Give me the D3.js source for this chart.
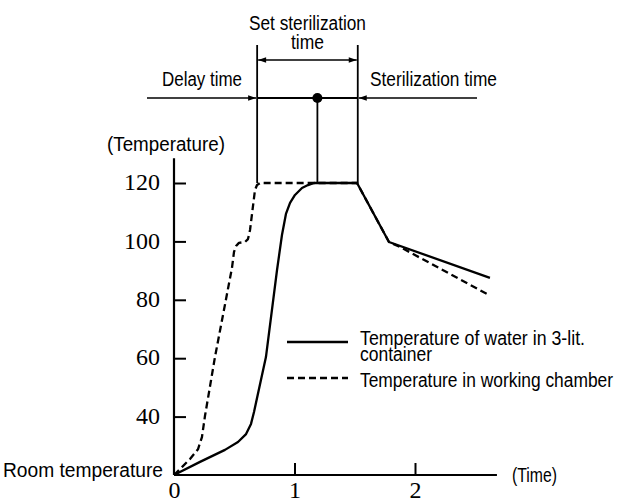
<!DOCTYPE html>
<html><head><meta charset="utf-8">
<script src="https://cdn.jsdelivr.net/npm/d3@7"></script>
<style>
body{margin:0;background:#fff}
svg{display:block}
.lab{font-family:"Liberation Sans","Arial",sans-serif;font-size:20px;fill:#000}
.num{font-family:"Liberation Serif","Times New Roman",serif;font-size:24px;fill:#000}
</style></head><body>
<svg id="c" width="631" height="501"></svg>
<script>
// ---- data ----
const timeTicks = [0, 1, 2];
const tempTicks = [40, 60, 80, 100, 120];
const waterTime = [0, 0.216, 0.423, 0.531, 0.598, 0.639, 0.664, 0.763, 0.855, 0.896, 0.929, 0.963, 1.004, 1.062, 1.112, 1.162, 1.519, 1.784, 2.622];
const waterTemp = [20, 24.5, 28.6, 31.3, 34, 37.5, 41.6, 60.4, 90.2, 102.2, 109.4, 113.2, 115.9, 118.3, 119.3, 120, 120, 99.8, 87.5];
const chamberTime = [0, 0.066, 0.133, 0.199, 0.232, 0.257, 0.340, 0.432, 0.481, 0.498, 0.515, 0.539, 0.589, 0.614, 0.631, 0.672, 0.689, 0.714, 1.104, 1.519, 1.784, 1.876, 2.598];
const chamberTemp = [20, 22.7, 25.5, 28.8, 33, 40.2, 60.4, 80.3, 90.9, 96.4, 98.4, 99.5, 99.8, 100.8, 103.9, 117.6, 119.3, 120, 120, 120, 99.8, 98.1, 82];
const phaseTimes = [0.69, 1.19, 1.525];   // delay end, set point, sterilization end
const legendLabels = [["Temperature of water in 3-lit.", "container"], ["Temperature in working chamber"]];
const axisTitles = {y: "(Temperature)", x: "(Time)", origin: "Room temperature"};
const phaseLabels = {set: ["Set sterilization", "time"], delay: "Delay time", ster: "Sterilization time"};
const timeMax = 2.68, tempMax = 128.5, tempMin = 20;

// ---- scales ----
const svg = d3.select("#c");
const x = d3.scaleLinear().domain([0, 2]).range([174, 415]);
const y = d3.scaleLinear().domain([20, 120]).range([475, 183]);

// condensed text helper (scan font is narrow)
function label(px, py, txt, w, anchor) {
  return svg.append("text").attr("class", "lab").attr("x", px).attr("y", py)
    .attr("text-anchor", anchor || "start")
    .attr("textLength", w).attr("lengthAdjust", "spacingAndGlyphs").text(txt);
}

const defs = svg.append("defs");
defs.append("marker").attr("id", "ah").attr("viewBox", "0 0 10 10")
  .attr("refX", 10).attr("refY", 5).attr("markerWidth", 9).attr("markerHeight", 8)
  .attr("markerUnits", "userSpaceOnUse").attr("orient", "auto-start-reverse")
  .append("path").attr("d", "M0,1.5 L10,5 L0,8.5 Z").attr("fill", "#000");

// ---- axes ----
svg.append("line").attr("x1", x(0)).attr("x2", x(timeMax)).attr("y1", y(tempMin)).attr("y2", y(tempMin))
  .attr("stroke", "#000").attr("stroke-width", 2.2);
svg.append("line").attr("x1", x(0)).attr("x2", x(0)).attr("y1", y(tempMin)).attr("y2", y(tempMax))
  .attr("stroke", "#000").attr("stroke-width", 2.2);

const xAxis = svg.append("g").attr("transform", `translate(0,${y(tempMin)})`)
  .call(d3.axisBottom(x).tickValues(timeTicks).tickSizeInner(-12).tickSizeOuter(0).tickPadding(6).tickFormat(d3.format("d")));
xAxis.select(".domain").remove();
xAxis.selectAll(".tick line").attr("stroke", "#000").attr("stroke-width", 2).filter(d => d === 0).remove();
xAxis.selectAll(".tick text").attr("class", "num").attr("font-family", null).attr("font-size", null)
  .attr("y", 23).attr("dy", null);

const yAxis = svg.append("g").attr("transform", `translate(${x(0)},0)`)
  .call(d3.axisLeft(y).tickValues(tempTicks).tickSizeInner(-12).tickSizeOuter(0).tickPadding(14).tickFormat(d3.format("d")));
yAxis.select(".domain").remove();
yAxis.selectAll(".tick line").attr("stroke", "#000").attr("stroke-width", 2);
yAxis.selectAll(".tick text").attr("class", "num").attr("font-family", null).attr("font-size", null).attr("dy", "0.28em");

label(107, 151, axisTitles.y, 118);
label(512, 482, axisTitles.x, 45);
label(3, 477, axisTitles.origin, 160);

// ---- curves ----
const line = d3.line().x(d => x(d[0])).y(d => y(d[1]));
const water = waterTime.map((t, i) => [t, waterTemp[i]]);
const chamber = chamberTime.map((t, i) => [t, chamberTemp[i]]);
svg.append("path").datum(chamber).attr("d", line).attr("fill", "none")
  .attr("stroke", "#000").attr("stroke-width", 2.3).attr("stroke-linejoin", "round").attr("stroke-dasharray", "7,4");
svg.append("path").datum(water).attr("d", line).attr("fill", "none")
  .attr("stroke", "#000").attr("stroke-width", 2.3).attr("stroke-linejoin", "round");

// ---- phase annotation ----
const yTopLines = 45, yRow = 98, ySet = 60;
[phaseTimes[0], phaseTimes[2]].forEach(t => {
  svg.append("line").attr("x1", x(t)).attr("x2", x(t)).attr("y1", yTopLines).attr("y2", y(120))
    .attr("stroke", "#000").attr("stroke-width", 1.8);
});
svg.append("line").attr("x1", x(phaseTimes[1])).attr("x2", x(phaseTimes[1])).attr("y1", yRow).attr("y2", y(120))
  .attr("stroke", "#000").attr("stroke-width", 1.8);
svg.append("line").attr("x1", x(phaseTimes[0]) + 1).attr("x2", x(phaseTimes[2]) - 1).attr("y1", ySet).attr("y2", ySet)
  .attr("stroke", "#000").attr("stroke-width", 1.6)
  .attr("marker-start", "url(#ah)").attr("marker-end", "url(#ah)");
svg.append("line").attr("x1", 147).attr("x2", x(phaseTimes[0]) - 1).attr("y1", yRow).attr("y2", yRow)
  .attr("stroke", "#000").attr("stroke-width", 1.6).attr("marker-end", "url(#ah)");
svg.append("line").attr("x1", x(phaseTimes[0])).attr("x2", x(phaseTimes[2])).attr("y1", yRow).attr("y2", yRow)
  .attr("stroke", "#000").attr("stroke-width", 1.8);
svg.append("line").attr("x1", 477).attr("x2", x(phaseTimes[2]) + 1).attr("y1", yRow).attr("y2", yRow)
  .attr("stroke", "#000").attr("stroke-width", 1.6).attr("marker-end", "url(#ah)");
svg.append("circle").attr("cx", x(phaseTimes[1])).attr("cy", yRow).attr("r", 5).attr("fill", "#000");

const midSet = (x(phaseTimes[0]) + x(phaseTimes[2])) / 2;
label(midSet, 30, phaseLabels.set[0], 117, "middle");
label(midSet, 49, phaseLabels.set[1], 33, "middle");
label(162, 86, phaseLabels.delay, 80);
label(370, 86, phaseLabels.ster, 127);

// ---- legend ----
const lg = svg.append("g");
lg.append("line").attr("x1", 287).attr("x2", 348).attr("y1", 342).attr("y2", 342).attr("stroke", "#000").attr("stroke-width", 2.3);
lg.append("line").attr("x1", 287).attr("x2", 348).attr("y1", 378).attr("y2", 378).attr("stroke", "#000").attr("stroke-width", 2.3).attr("stroke-dasharray", "7,4");
label(360, 345, legendLabels[0][0], 225);
label(360, 361, legendLabels[0][1], 72);
label(360, 387, legendLabels[1][0], 253);
</script></body></html>
